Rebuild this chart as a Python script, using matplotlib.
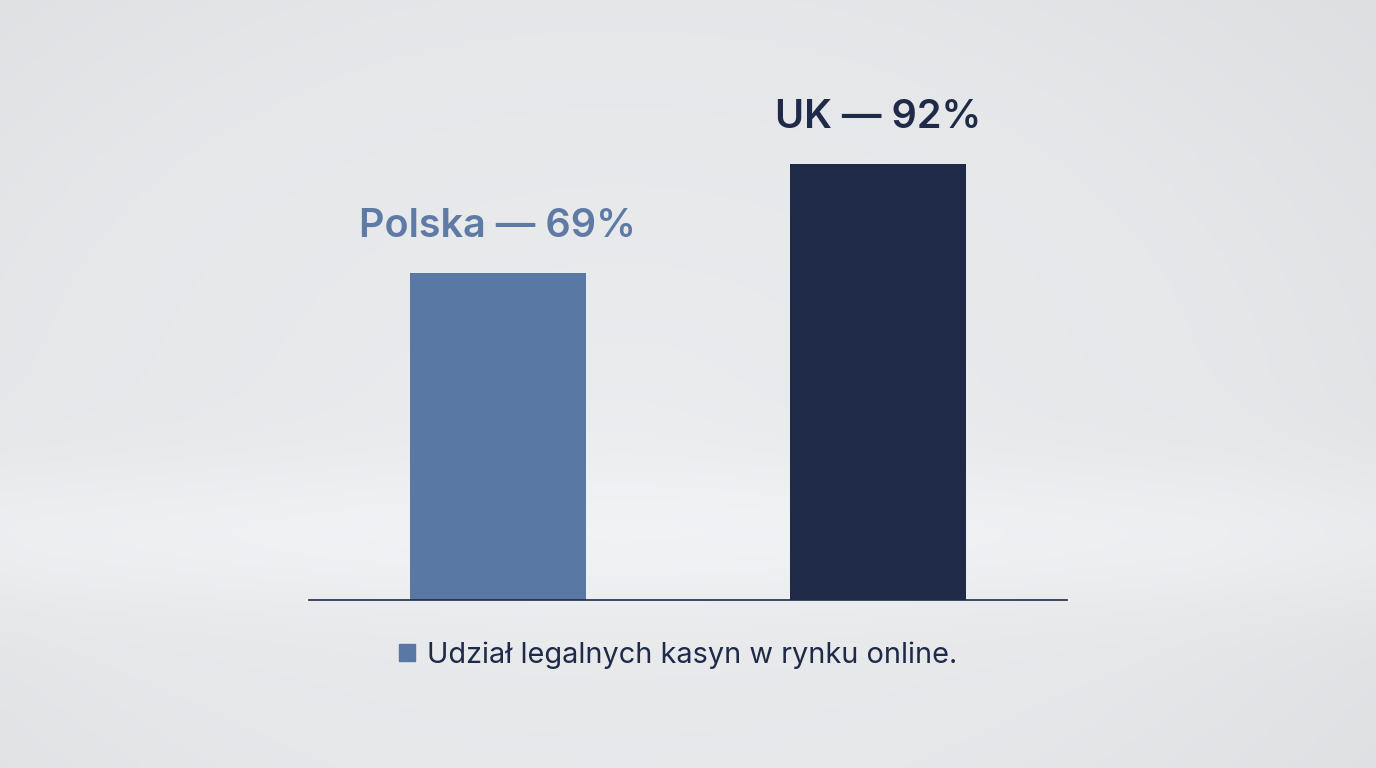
import numpy as np
import matplotlib.pyplot as plt
from matplotlib.patches import Patch

plt.rcParams["font.family"] = ["Inter", "DejaVu Sans"]

# dane
countries = ["Polska", "UK"]
shares = [69, 92]
labels = ["Polska — 69%", "UK — 92%"]
legend_label = "Udział legalnych kasyn w rynku online."

bar_colors = ["#5a78a4", "#1f2a48"]
label_colors = ["#5f7ba5", "#1f2a48"]

fig = plt.figure(figsize=(13.76, 7.68), dpi=100)

# tło z łagodnym gradientem
bg = fig.add_axes([0, 0, 1, 1], zorder=-10)
yy, xx = np.mgrid[0:1:200j, 0:1:300j]
r = np.sqrt(((xx - 0.45) / 0.75) ** 2 + ((yy - 0.55) / 0.9) ** 2)
shade = 0.9 + 0.035 * np.clip(1 - r, 0, 1) + 0.03 * np.exp(-((yy - 0.7) / 0.1) ** 2) - 0.05 * np.clip(r - 0.6, 0, 1)
img = np.dstack([shade * 0.985, shade * 0.99, shade * 1.0])
bg.imshow(np.clip(img, 0, 1), aspect="auto", extent=[0, 1, 0, 1], origin="upper")
bg.axis("off")

ax = fig.add_axes([309 / 1376, 168 / 768, 758 / 1376, 500 / 768])
ax.patch.set_alpha(0)
x = np.arange(len(countries))
bars = ax.bar(x, shares, width=0.463, color=bar_colors, zorder=2)
ax.set_xlim(-0.497, 1.497)
ax.set_ylim(0, 105.5)

for i, b in enumerate(bars):
    ax.annotate(labels[i], (b.get_x() + b.get_width() / 2, b.get_height()),
                xytext=(0, 20), textcoords="offset points", ha="center", va="bottom",
                fontsize=28.5, fontweight="semibold", color=label_colors[i])

for s in ["top", "right", "left"]:
    ax.spines[s].set_visible(False)
ax.spines["bottom"].set_color("#1f2a48")
ax.spines["bottom"].set_linewidth(1.2)
ax.set_xticks([])
ax.set_yticks([])

leg = fig.legend(handles=[Patch(color=bar_colors[0], label=legend_label)],
                 loc="center", bbox_to_anchor=(678 / 1376, 1 - 655 / 768),
                 frameon=False, fontsize=20.8, handlelength=0.55, handleheight=0.55,
                 handletextpad=0.4, labelcolor="#1f2a48")

fig.savefig("out.png", dpi=100)
